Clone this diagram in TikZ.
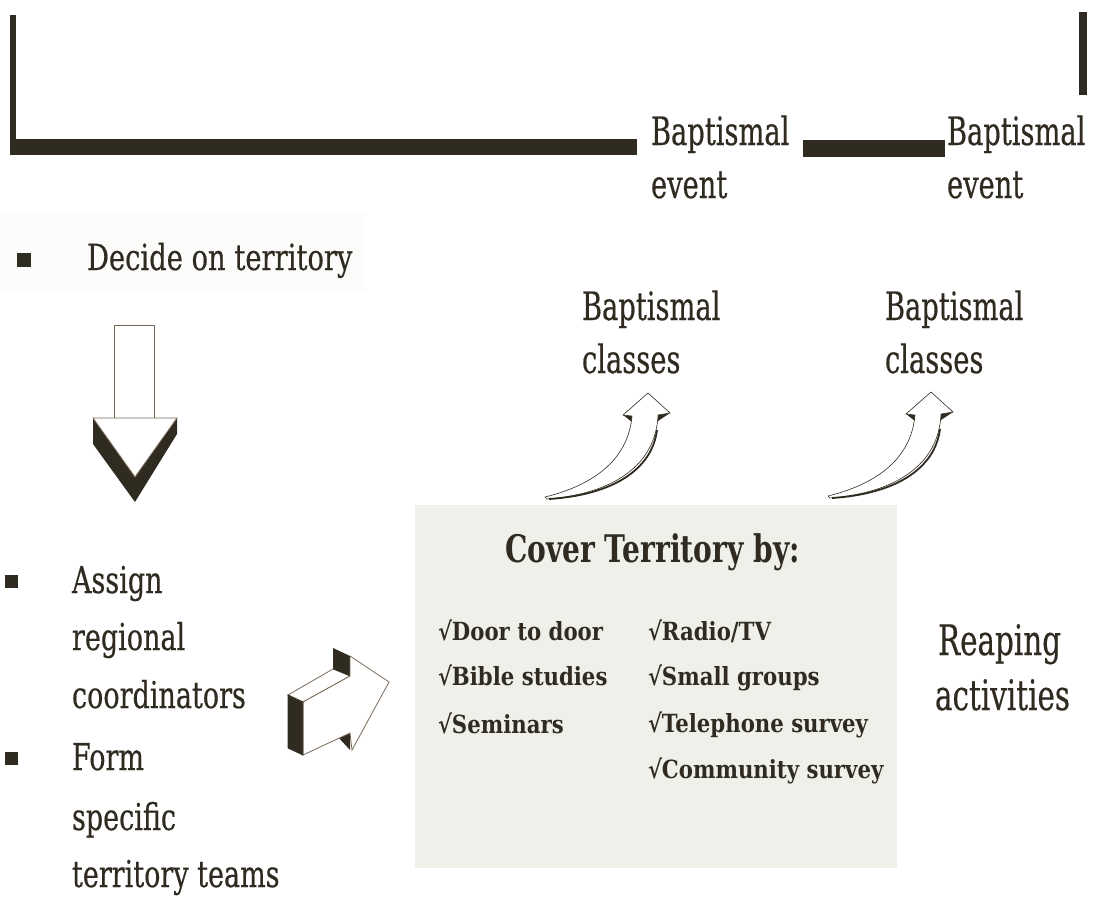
\documentclass[tikz,border=0pt]{standalone}
\usepackage{fontspec}
\setmainfont{DejaVu Serif}[FakeStretch=0.7,FakeBold=0.4]
\newfontfamily\serifB{DejaVu Serif}[FakeStretch=0.76,FakeBold=0.4]
\newfontfamily\serifL{DejaVu Serif}[FakeStretch=0.73,FakeBold=0.4]
\newfontfamily\serifT{DejaVu Serif}[FakeStretch=0.74]
\newfontfamily\serifI{DejaVu Serif}[FakeStretch=0.85]
\newcommand{\fsz}[1]{\fontsize{#1}{#1}\selectfont}
\definecolor{ink}{RGB}{48,43,32}
\definecolor{boxgray}{RGB}{240,240,235}
\definecolor{bandgray}{RGB}{252,252,250}
\definecolor{edge}{RGB}{120,105,90}
\begin{document}
\begin{tikzpicture}[x=1pt,y=-1pt,
  txt/.style={anchor=base west,inner sep=0pt,outer sep=0pt,text=ink},
  big/.style={txt,font=\fsz{39}},
  lst/.style={txt,font=\serifL\fsz{37}},
  itm/.style={txt,font=\serifI\fsz{25}\bfseries},
  bul/.style={fill=ink,inner sep=0pt,minimum size=#1},
  bar/.style={fill=ink,draw=none},
  blockwhite/.style={fill=white,draw=edge,line width=0.8pt,line join=miter},
  blockdark/.style={fill=ink,draw=ink,line width=0.6pt,line join=miter}]
\useasboundingbox (0,0) rectangle (1093,899);
\fill[white] (0,0) rectangle (1093,899);

% timeline bars
\fill[bar] (10,15) rectangle (16,155);
\fill[bar] (10,139) rectangle (637,155);
\fill[bar] (803,140) rectangle (945,157);
\fill[bar] (1079,12) rectangle (1087,95);

\node[big] (be1a) at (651,145) {Baptismal};
\node[big] (be1b) at (651,198) {event};
\node[big] (be2a) at (947,145) {Baptismal};
\node[big] (be2b) at (947,198) {event};

% decide on territory
\fill[bandgray] (0,213) rectangle (365,292);
\node[bul=14pt] (b0) at (24,260) {};
\node[txt,font=\serifB\fsz{36}] (decide) at (87,270) {Decide on territory};

% down arrow
\draw[blockwhite] (114,325) rectangle (154,418);
\fill[ink] (93,418) -- (93,444) -- (135,502) -- (177,434) -- (177,418) -- cycle;
\draw[blockwhite] (93,418) -- (177,418) -- (135,477) -- cycle;

% baptismal classes
\node[big] (bc1a) at (582,320) {Baptismal};
\node[big] (bc1b) at (582,373) {classes};
\node[big] (bc2a) at (885,320) {Baptismal};
\node[big] (bc2b) at (885,373) {classes};

% curved arrows
\foreach \dx/\dy in {0/0,283/-1}{
  \begin{scope}[shift={(\dx,\dy)}]
    \fill[ink] (623,415) -- (632,416) -- (632,422) -- cycle;
    \fill[ink] (670,413) -- (658,415) -- (658,421) -- cycle;
    \draw[blockwhite,draw=ink,line width=0.6pt]
      (545,497) .. controls (590,486) and (628,462) .. (632,416)
      -- (623,415) -- (648,393) -- (670,413) -- (658,415)
      .. controls (656,466) and (612,494) .. (547,499) -- cycle;
    \draw[ink,line width=1.8pt] (657,430) .. controls (652,470) and (612,495) .. (549,499);
  \end{scope}
}

% grey box
\fill[boxgray] (415,505) rectangle (897,868);
\node[txt,font=\serifT\fsz{38}\bfseries] (cover) at (505,562) {Cover Territory by:};
\node[itm] (i1) at (438,640) {√Door to door};
\node[itm] (i2) at (438,685) {√Bible studies};
\node[itm] (i3) at (438,733) {√Seminars};
\node[itm] (i4) at (648,640) {√Radio/TV};
\node[itm] (i5) at (648,685) {√Small groups};
\node[itm] (i6) at (648,732) {√Telephone survey};
\node[itm] (i7) at (648,778) {√Community survey};

\node[txt,font=\fsz{42}] (reap1) at (938,655) {Reaping};
\node[txt,font=\fsz{42}] (reap2) at (935,710) {activities};

% left list
\node[bul=13pt] (b1) at (11,581) {};
\node[bul=13pt] (b2) at (11,758) {};
\node[lst] (l1) at (72,593) {Assign};
\node[lst] (l2) at (72,650) {regional};
\node[lst] (l3) at (72,708) {coordinators};
\node[lst] (l4) at (72,770) {Form};
\node[lst] (l5) at (72,830) {specific};
\node[lst] (l6) at (72,887) {territory teams};

% 3D right arrow
\fill[ink] (288,695) -- (303,702) -- (303,755) -- (288,748) -- cycle;
\draw[blockwhite] (288,695) -- (333,669) -- (350,676) -- (303,702) -- cycle;
\fill[ink] (333,648) -- (350,656) -- (350,676) -- (333,669) -- cycle;
\fill[ink] (338,737) -- (350,733) -- (350,750) -- cycle;
\draw[blockwhite] (303,702) -- (350,676) -- (350,656) -- (389,682) -- (352,750) -- (350,733) -- (303,755) -- cycle;
\draw[ink,line width=0.8pt] (288,695) -- (303,702) -- (303,755) -- (288,748) -- cycle;
\end{tikzpicture}
\end{document}
